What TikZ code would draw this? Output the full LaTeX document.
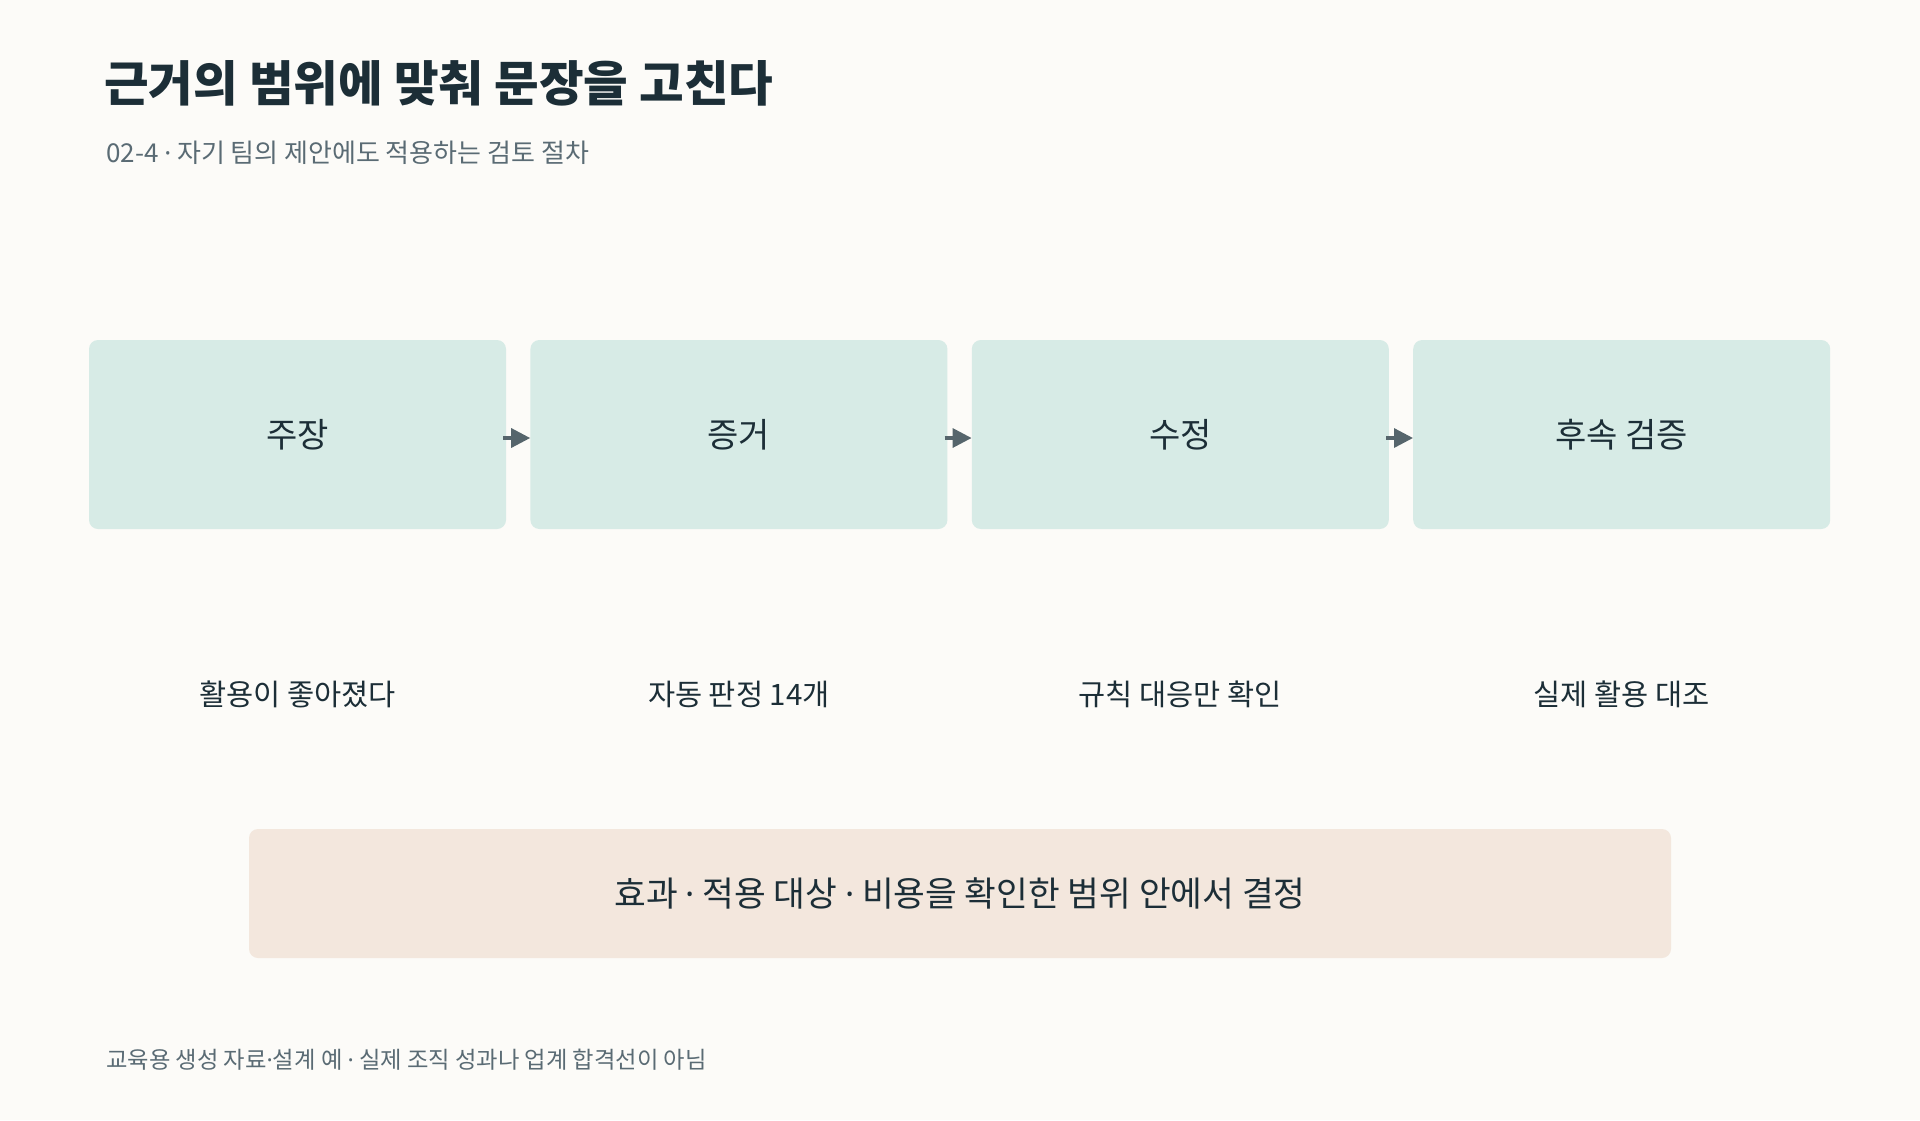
\documentclass[tikz,border=0pt]{standalone}
\usepackage{fontspec}
\setmainfont{Noto Sans CJK KR}
\newfontfamily\dotfont{Noto Sans}
\newcommand{\mdot}{{\dotfont ·}}
\usetikzlibrary{positioning,arrows.meta}

\definecolor{bgpaper}{HTML}{FCFBF8}
\definecolor{inkdark}{HTML}{1C2E37}
\definecolor{inkgray}{HTML}{5A6B74}
\definecolor{stepfill}{HTML}{D7EBE6}
\definecolor{notefill}{HTML}{F3E7DD}
\definecolor{arrowgray}{HTML}{56656C}

\tikzset{
  stagebox/.style={fill=stepfill, rounded corners=9pt, minimum width=417pt,
    minimum height=189pt, inner sep=0pt, text=inkdark, font=\fontsize{34}{40}\selectfont},
  stagenote/.style={text=inkdark, inner sep=0pt, font=\fontsize{29.5}{35}\selectfont},
  flowarrow/.style={draw=arrowgray, line width=3.3pt, -{Triangle[length=19pt,width=19pt]}},
}

\begin{document}
\begin{tikzpicture}[x=1pt,y=-1pt]
  \useasboundingbox[fill=bgpaper] (0,0) rectangle (1920,1120);
  \node[anchor=west, inner sep=0pt, text=inkdark, font=\fontsize{48.5}{56}\selectfont\bfseries]
    (title) at (104,83) {근거의 범위에 맞춰 문장을 고친다};
  \node[anchor=west, inner sep=0pt, text=inkgray, font=\fontsize{26}{31}\selectfont]
    (subtitle) at (106,153) {02-4 \mdot{} 자기 팀의 제안에도 적용하는 검토 절차};

  \node[stagebox] (claim) at (297.5,434.5) {주장};
  \node[stagebox, right=24pt of claim] (evidence) {증거};
  \node[stagebox, right=24pt of evidence] (revision) {수정};
  \node[stagebox, right=24pt of revision] (followup) {후속 검증};

  \draw[flowarrow] ([xshift=-3pt,yshift=-3.5pt]claim.east) -- ([yshift=-3.5pt]evidence.west);
  \draw[flowarrow] ([xshift=-3pt,yshift=-3.5pt]evidence.east) -- ([yshift=-3.5pt]revision.west);
  \draw[flowarrow] ([xshift=-3pt,yshift=-3.5pt]revision.east) -- ([yshift=-3.5pt]followup.west);

  \node[stagenote, below=260pt of claim.center, anchor=center] (claimnote) {활용이 좋아졌다};
  \node[stagenote, below=260pt of evidence.center, anchor=center] (evidencenote) {자동 판정 14개};
  \node[stagenote, below=260pt of revision.center, anchor=center] (revisionnote) {규칙 대응만 확인};
  \node[stagenote, below=260pt of followup.center, anchor=center] (followupnote) {실제 활용 대조};

  \node[fill=notefill, rounded corners=9pt, minimum width=1422pt, minimum height=129pt,
    inner sep=0pt, text=inkdark, font=\fontsize{34.5}{41}\selectfont]
    (decision) at (960,893.5) {효과 \mdot{} 적용 대상 \mdot{} 비용을 확인한 범위 안에서 결정};

  \node[anchor=west, inner sep=0pt, text=inkgray, font=\fontsize{23.3}{28}\selectfont]
    (footer) at (106,1060) {교육용 생성 자료\mdot{}설계 예 \mdot{} 실제 조직 성과나 업계 합격선이 아님};
\end{tikzpicture}
\end{document}
